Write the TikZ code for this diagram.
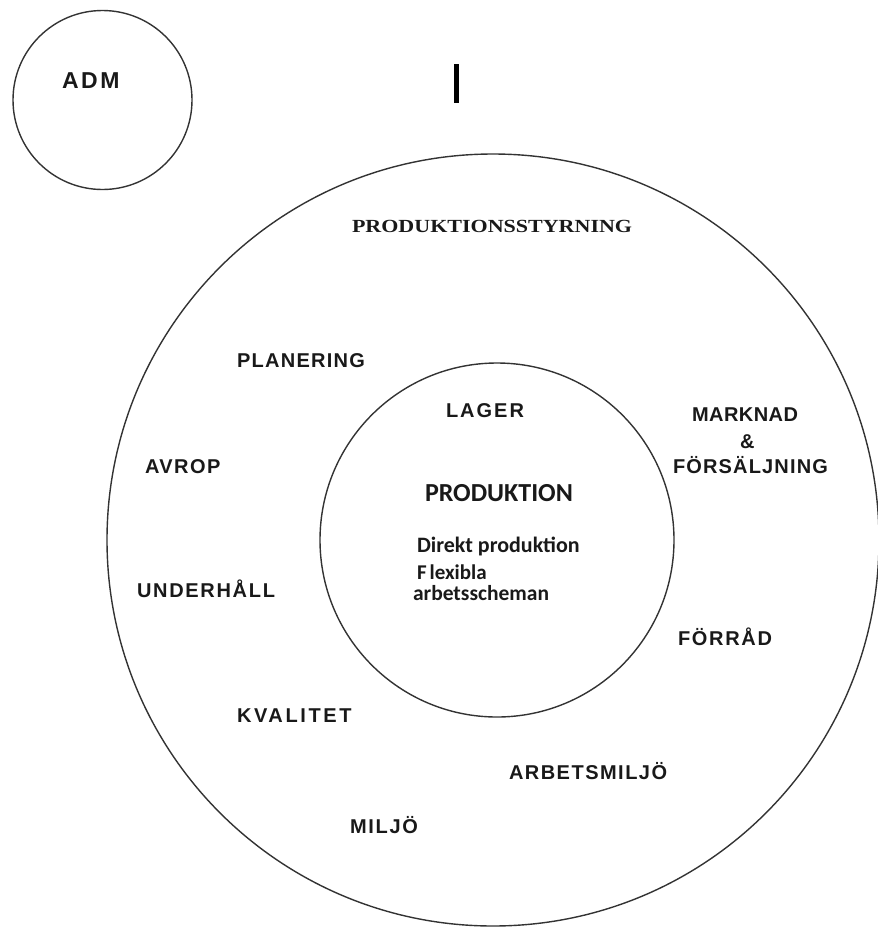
\documentclass[tikz,border=0pt]{standalone}
\usepackage{fontspec}
\usepackage{graphicx}
\setmainfont{Liberation Sans}
\newfontfamily\labfont{Liberation Sans}
\newfontfamily\serfont{Liberation Serif}
\newfontfamily\calfont{Carlito}
\newcommand{\lsp}[2]{{\addfontfeature{LetterSpace=#1}#2}}
\begin{document}
\begin{tikzpicture}[x=1pt,y=-1pt,
  ring/.style={draw=black!80,line width=1.4pt},
  lab/.style={anchor=base west,inner sep=0pt,outer sep=0pt,text=black!90,
    font=\labfont\bfseries\fontsize{20}{20}\selectfont},
  ser/.style={anchor=base west,inner sep=0pt,outer sep=0pt,text=black!90,
    font=\serfont\bfseries\fontsize{18.5}{18.5}\selectfont},
  inn/.style={anchor=base west,inner sep=0pt,outer sep=0pt,text=black!90,
    font=\calfont\bfseries\fontsize{22}{22}\selectfont}]
\useasboundingbox (0,0) rectangle (878,927);
% circles
\node[ring,circle,minimum size=179pt,inner sep=0pt] (adm) at (102.5,100) {};
\node[ring,circle,minimum size=772pt,inner sep=0pt] (outer) at (493,540) {};
\node[ring,circle,minimum size=354pt,inner sep=0pt] (inner) at (497,540) {};
% cursor bar
\coordinate (bt) at (456.5,64);
\coordinate (bb) at (456.5,103);
\draw[line width=4.5pt,black] (bt) -- (bb);
% labels
\node[lab,font=\labfont\bfseries\fontsize{23}{23}\selectfont] (tadm) at (62,88) {\lsp{11}{ADM}};
\node[ser] (tps) at (352,232) {\scalebox{1.19}[1]{PRODUKTIONSSTYRNING}};
\node[lab] (tpl) at (237,367) {\lsp{6.4}{PLANERING}};
\node[lab] (tlag) at (446,417) {\lsp{10}{LAGER}};
\node[lab] (tmar) at (692,421) {\lsp{2.3}{MARKNAD}};
\node[lab] (tamp) at (740,448) {\&};
\node[lab] (tfor) at (673,473) {\lsp{5.8}{FÖRSÄLJNING}};
\node[lab] (tav) at (145,473) {\lsp{7.4}{AVROP}};
\node[lab] (tund) at (137,597) {\lsp{8.5}{UNDERHÅLL}};
\node[lab] (tforr) at (678,645) {\lsp{8.5}{FÖRRÅD}};
\node[lab] (tkv) at (237,722) {\lsp{13}{KVALITET}};
\node[lab] (tarb) at (509,779) {\lsp{7.4}{ARBETSMILJÖ}};
\node[lab] (tmil) at (350,833) {\lsp{8.6}{MILJÖ}};
% inner texts
\node[inn,font=\calfont\bfseries\fontsize{26}{26}\selectfont] (tprod) at (425,501) {PRODUKTION};
\node[inn] (tdir) at (417,552) {Direkt produktion};
\node[inn,font=\calfont\bfseries\fontsize{21}{21}\selectfont] (tflex) at (417,579) {F\hspace{3pt}lexibla};
\node[inn,font=\calfont\bfseries\fontsize{21.5}{21.5}\selectfont] (tarbs) at (413,600) {arbetsscheman};
\end{tikzpicture}
\end{document}
